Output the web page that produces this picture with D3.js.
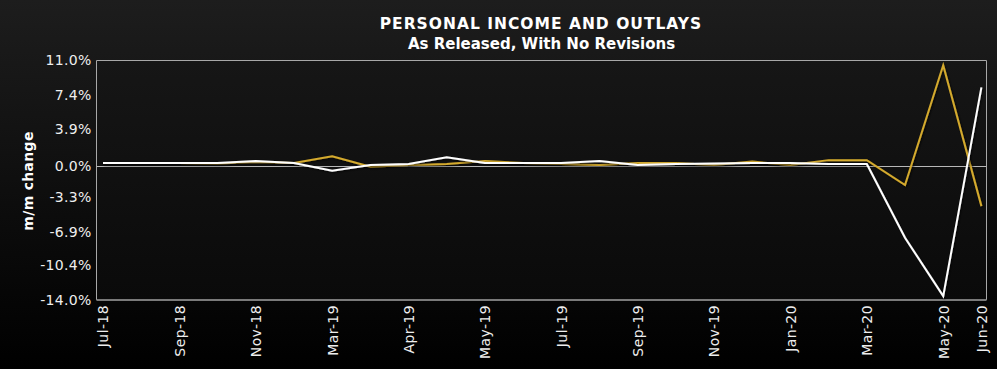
<!DOCTYPE html>
<html>
<head>
<meta charset="utf-8">
<script src="https://cdn.jsdelivr.net/npm/d3@7"></script>
<style>
  html, body { margin: 0; padding: 0; background: #000; }
  svg { display: block; }
  text { font-family: "DejaVu Sans", Verdana, sans-serif; }
</style>
</head>
<body>
<svg id="chart" width="997" height="369"></svg>
<script>
// ---- data ----
const categories = ["Jul-18","Aug-18","Sep-18","Oct-18","Nov-18","Dec-18","Mar-19","Mar-19",
  "Apr-19","Apr-19","May-19","Jun-19","Jul-19","Aug-19","Sep-19","Oct-19","Nov-19","Dec-19",
  "Jan-20","Feb-20","Mar-20","Apr-20","May-20","Jun-20"];
const shownTicks = [0,2,4,6,8,10,12,14,16,18,20,22,23];
const income  = [0.3,0.3,0.3,0.25,0.4,0.3,1.0,-0.1,0.1,0.2,0.5,0.3,0.2,0.1,0.3,0.3,0.1,0.45,0.1,0.6,0.6,-2.0,10.5,-4.2];
const outlays = [0.3,0.3,0.3,0.3,0.5,0.3,-0.5,0.1,0.2,0.9,0.3,0.3,0.3,0.5,0.1,0.2,0.25,0.3,0.3,0.2,0.2,-7.5,-13.6,8.2];
const yTicks = [11.0, 7.4, 3.9, 0.0, -3.3, -6.9, -10.4, -14.0];
const yDomain = [-14.0, 11.0];

const W = 997, H = 369;
const plot = {left: 96.5, right: 986.5, top: 60.5, bottom: 300};

const svg = d3.select("#chart");
const defs = svg.append("defs");
const bg = defs.append("linearGradient").attr("id","bg").attr("x1",0).attr("y1",0).attr("x2",0).attr("y2",1);
bg.append("stop").attr("offset","0%").attr("stop-color","#1d1d1d");
bg.append("stop").attr("offset","100%").attr("stop-color","#000000");
const pg = defs.append("linearGradient").attr("id","pg").attr("x1",0).attr("y1",0).attr("x2",0).attr("y2",1);
pg.append("stop").attr("offset","0%").attr("stop-color","#161616");
pg.append("stop").attr("offset","100%").attr("stop-color","#0a0a0a");
const sh = defs.append("filter").attr("id","sh").attr("x","-5%").attr("y","-20%").attr("width","110%").attr("height","140%");
sh.append("feDropShadow").attr("dx",1).attr("dy",1).attr("stdDeviation",1.2).attr("flood-color","#000").attr("flood-opacity",0.8);

svg.append("rect").attr("width",W).attr("height",H).attr("fill","url(#bg)");
svg.append("rect").attr("x",plot.left).attr("y",plot.top)
  .attr("width",plot.right-plot.left).attr("height",plot.bottom-plot.top).attr("fill","url(#pg)");

const x = d3.scalePoint().domain(d3.range(categories.length)).range([103, 981.4]);
const y = d3.scaleLinear().domain(yDomain).range([plot.bottom, plot.top]);

// frame
svg.append("path")
  .attr("d", `M${plot.left},${plot.bottom}V${plot.top}H${plot.right}V${plot.bottom}`)
  .attr("fill","none").attr("stroke","#a8a8a8").attr("stroke-width",1);

// zero line
svg.append("line").attr("x1",plot.left).attr("x2",plot.right)
  .attr("y1",Math.round(y(0))+0.5).attr("y2",Math.round(y(0))+0.5)
  .attr("stroke","#b8b8b8").attr("stroke-width",1);

// y axis
const yAxis = svg.append("g").attr("transform",`translate(${plot.left},0)`)
  .call(d3.axisLeft(y).tickValues(yTicks).tickSize(0).tickPadding(5).tickFormat(d => d.toFixed(1) + "%"));
yAxis.select(".domain").remove();
yAxis.selectAll("text").attr("fill","#eeeeee").attr("font-size","14px").attr("letter-spacing","0.3px")
  .attr("font-family","DejaVu Sans, Verdana, sans-serif");

// x axis
const xAxis = svg.append("g").attr("transform",`translate(0,${plot.bottom})`)
  .call(d3.axisBottom(x).tickValues(shownTicks).tickSize(0).tickFormat(i => categories[i]));
xAxis.select(".domain").attr("d",`M${plot.left},0H${plot.right}`).attr("stroke","#7a7a7a").attr("stroke-width",2);
xAxis.selectAll("text")
  .attr("fill","#eeeeee").attr("font-size","14px").attr("letter-spacing","0.4px")
  .attr("font-family","DejaVu Sans, Verdana, sans-serif")
  .attr("text-anchor","end").attr("dy","0.35em").attr("x",-5).attr("y",0)
  .attr("transform","rotate(-90)");

// lines
const line = d3.line().x((d,i) => x(i)).y(d => y(d));
svg.append("path").datum(income).attr("d",line).attr("fill","none")
  .attr("stroke","#d4aa2e").attr("stroke-width",2).attr("stroke-linejoin","miter").attr("filter","url(#sh)");
svg.append("path").datum(outlays).attr("d",line).attr("fill","none")
  .attr("stroke","#ffffff").attr("stroke-width",2).attr("stroke-linejoin","miter").attr("filter","url(#sh)");

// titles
svg.append("text").attr("x",541).attr("y",29).attr("text-anchor","middle")
  .attr("fill","#ffffff").attr("font-weight","bold").attr("font-size","15.5px").attr("letter-spacing","1px")
  .text("PERSONAL INCOME AND OUTLAYS");
svg.append("text").attr("x",541.5).attr("y",49).attr("text-anchor","middle")
  .attr("fill","#ffffff").attr("font-weight","bold").attr("font-size","15px")
  .text("As Released, With No Revisions");
svg.append("text").attr("transform","translate(33,181) rotate(-90)").attr("text-anchor","middle")
  .attr("fill","#ffffff").attr("font-weight","bold").attr("font-size","14px").attr("letter-spacing","0.3px")
  .text("m/m change");
</script>
</body>
</html>
